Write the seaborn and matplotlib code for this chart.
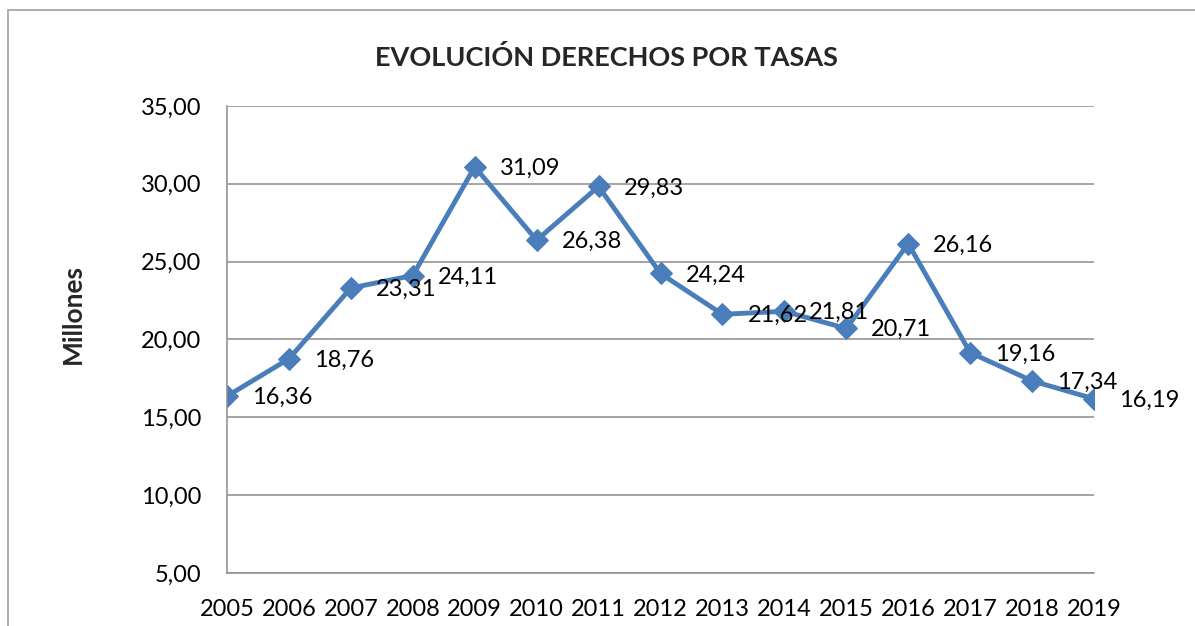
import numpy as np
import pandas as pd
import matplotlib
matplotlib.use("Agg")
import matplotlib.pyplot as plt
import seaborn as sns
from matplotlib.patches import Rectangle

years = [2005, 2006, 2007, 2008, 2009, 2010, 2011, 2012,
         2013, 2014, 2015, 2016, 2017, 2018, 2019]
valores = [16.36, 18.76, 23.31, 24.11, 31.09, 26.38, 29.83, 24.24,
           21.62, 21.81, 20.71, 26.16, 19.16, 17.34, 16.19]
yticks = [5, 10, 15, 20, 25, 30, 35]

df = pd.DataFrame({'year': years, 'valor': valores})

sns.set_style("white")
plt.rcParams['font.family'] = ['Lato', 'DejaVu Sans']

fig = plt.figure(figsize=(11.95, 6.26), dpi=100)
ax = fig.add_axes([227/1195, 1-573/626, (1094-227)/1195, (573-106)/626])

grid_c = '#8c8c8c'
line_c = '#4a7ebb'

sns.lineplot(data=df, x='year', y='valor', ax=ax, color=line_c,
             linewidth=3.5, marker='D', markersize=11,
             markeredgecolor=line_c, markerfacecolor=line_c)

for x, y in zip(years, valores):
    ax.annotate(f"{y:.2f}".replace('.', ','), (x, y),
                xytext=(18, -1), textcoords='offset points',
                ha='left', va='center', fontsize=17, color='black')

ax.set_xlim(years[0], years[-1])
ax.set_ylim(5, 35)
ax.set_xticks(years)
ax.set_xticklabels([str(y) for y in years])
ax.set_yticks(yticks)
ax.set_yticklabels([f"{v:.2f}".replace('.', ',') for v in yticks])
ax.yaxis.grid(True, color=grid_c, linewidth=1.1)
ax.set_axisbelow(True)

for s in ['top', 'right']:
    ax.spines[s].set_visible(False)
for s in ['left', 'bottom']:
    ax.spines[s].set_color(grid_c)
    ax.spines[s].set_linewidth(1.1)

ax.tick_params(axis='both', direction='out', color=grid_c, width=1.1,
               length=6.5, labelsize=17, labelcolor='black')
ax.tick_params(axis='y', pad=12)
ax.tick_params(axis='x', pad=12)

ax.set_xlabel('')
ax.set_ylabel('')
fig.text(73/1195, 1-314/626, 'Millones', rotation=90, fontsize=19,
         fontweight='bold', ha='center', va='center')
fig.text(606/1195, 1-57/626, 'EVOLUCIÓN DERECHOS POR TASAS', fontsize=19.5,
         fontweight='bold', ha='center', va='center')

fig.patches.append(Rectangle((8/1195, -0.1), 1.2, 1-10/626+0.1,
                             transform=fig.transFigure, fill=False,
                             edgecolor='#a0a0a0', linewidth=1.2))

fig.savefig('out.png', dpi=100)
